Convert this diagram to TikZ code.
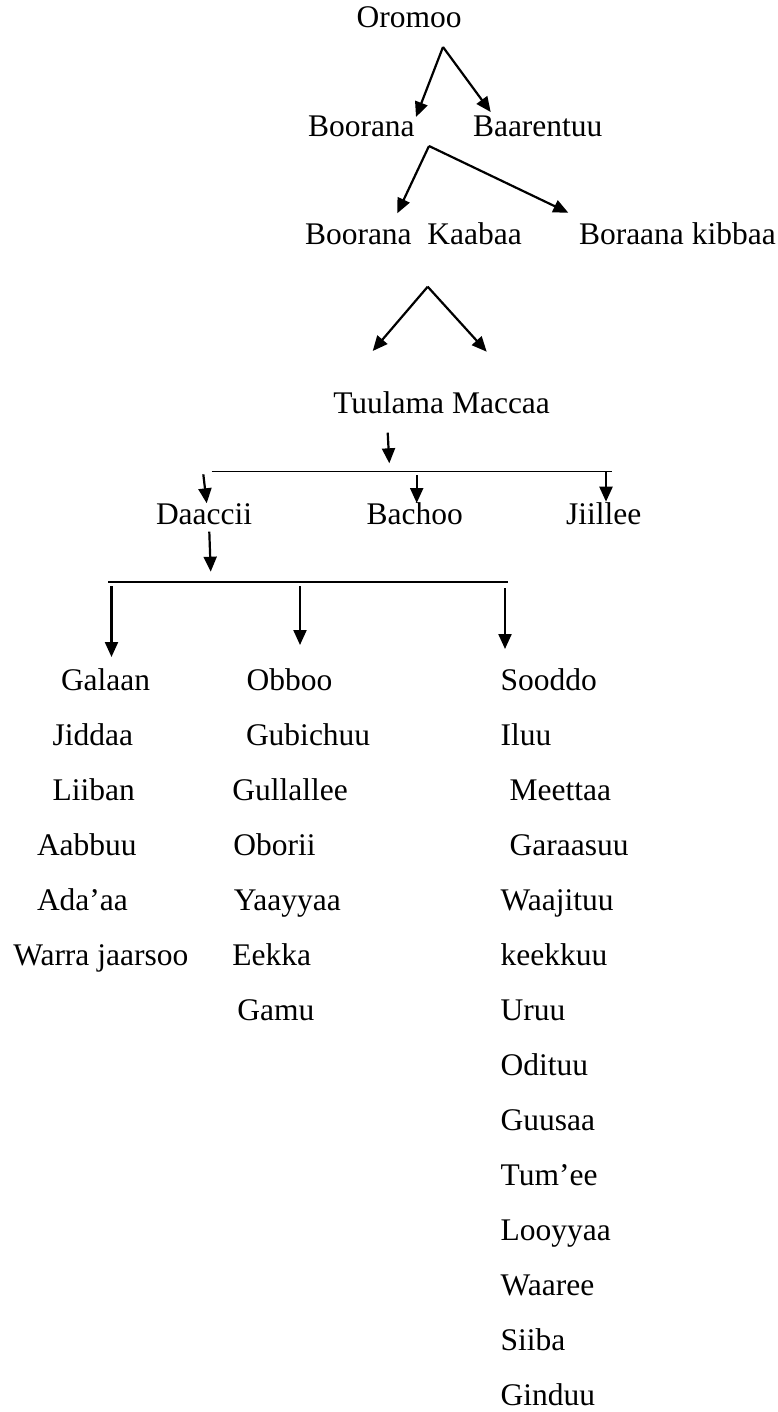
\documentclass[tikz,border=0pt]{standalone}
\usepackage{fontspec}
\setmainfont{Liberation Serif}
\usetikzlibrary{arrows.meta}
\begin{document}
\begin{tikzpicture}[x=1pt,y=-1pt,
  lbl/.style={anchor=base west,inner sep=0pt,outer sep=0pt,font=\fontsize{31.5}{37}\selectfont},
  arr/.style={line width=2.2pt,-{Triangle[length=15pt,width=13pt]}},
  bar/.style={line width=1.4pt}]
\useasboundingbox (0,0) rectangle (778,1412);
% upper tree
\node[lbl] (oromoo) at (356.7,28) {Oromoo};
\node[lbl] (boorana) at (308,137) {Boorana};
\node[lbl] (baarentuu) at (473,137) {Baarentuu};
\node[lbl] (kaabaa) at (305,245) {Boorana\ \ Kaabaa};
\node[lbl] (kibbaa) at (579,245) {Boraana kibbaa};
\node[lbl] (tuulama) at (333.3,413) {Tuulama Maccaa};
\node[lbl] (daaccii) at (156,524) {Daaccii};
\node[lbl] (bachoo) at (366.7,524) {Bachoo};
\node[lbl] (jiillee) at (566,524) {Jiillee};
% arrow end points
\coordinate (a1) at (443,47);
\coordinate (a1l) at (416,117);
\coordinate (a1r) at (490.7,112);
\coordinate (a2) at (429,146);
\coordinate (a2l) at (397.3,213.3);
\coordinate (a2r) at (568.3,212.7);
\coordinate (a3) at (427.7,286.7);
\coordinate (a3l) at (372.7,351);
\coordinate (a3r) at (486.7,351.7);
\coordinate (t1) at (387.7,432.7);
\coordinate (t2) at (389.3,463.3);
\coordinate (h1l) at (211.7,471.5);
\coordinate (h1r) at (611.7,471.5);
\coordinate (d1) at (203.3,474.3);
\coordinate (d2) at (206.7,503.3);
\coordinate (b1) at (416.7,475);
\coordinate (b2) at (416.7,503);
\coordinate (j1) at (606,472.3);
\coordinate (j2) at (606,501.7);
\coordinate (e1) at (209.3,531.7);
\coordinate (e2) at (210.7,571.7);
\coordinate (h2l) at (108.3,582);
\coordinate (h2r) at (508.3,582);
\coordinate (c1s) at (111.5,586);
\coordinate (c1e) at (111.5,657);
\coordinate (c2s) at (300,586);
\coordinate (c2e) at (300,645);
\coordinate (c3s) at (505,588);
\coordinate (c3e) at (505,649);
\draw[arr] (a1) -- (a1l);
\draw[arr] (a1) -- (a1r);
\draw[arr] (a2) -- (a2l);
\draw[arr] (a2) -- (a2r);
\draw[arr] (a3) -- (a3l);
\draw[arr] (a3) -- (a3r);
\draw[arr] (t1) -- (t2);
\draw[bar] (h1l) -- (h1r);
\draw[arr] (d1) -- (d2);
\draw[arr] (b1) -- (b2);
\draw[arr] (j1) -- (j2);
\draw[arr] (e1) -- (e2);
\draw[bar] (h2l) -- (h2r);
\draw[arr] (c1s) -- (c1e);
\draw[arr] (c2s) -- (c2e);
\draw[arr] (c3s) -- (c3e);
% left column
\node[lbl] (galaan) at (61,690) {Galaan};
\node[lbl] (jiddaa) at (52.7,745) {Jiddaa};
\node[lbl] (liiban) at (52.7,800) {Liiban};
\node[lbl] (aabbuu) at (37,855) {Aabbuu};
\node[lbl] (adaaa) at (37,910) {Ada’aa};
\node[lbl] (warra) at (13.3,965) {Warra jaarsoo};
% middle column
\node[lbl] (obboo) at (246.7,690) {Obboo};
\node[lbl] (gubichuu) at (246,745) {Gubichuu};
\node[lbl] (gullallee) at (232.4,800) {Gullallee};
\node[lbl] (oborii) at (233.3,855) {Oborii};
\node[lbl] (yaayyaa) at (233.8,910) {Yaayyaa};
\node[lbl] (eekka) at (232.3,965) {Eekka};
\node[lbl] (gamu) at (237.3,1020) {Gamu};
% right column
\node[lbl] (sooddo) at (500.7,690) {Sooddo};
\node[lbl] (iluu) at (500.7,745) {Iluu};
\node[lbl] (meettaa) at (509.6,800) {Meettaa};
\node[lbl] (garaasuu) at (509.6,855) {Garaasuu};
\node[lbl] (waajituu) at (500.7,910) {Waajituu};
\node[lbl] (keekkuu) at (500.7,965) {keekkuu};
\node[lbl] (uruu) at (500.7,1020) {Uruu};
\node[lbl] (odituu) at (500.7,1075) {Odituu};
\node[lbl] (guusaa) at (500.7,1130) {Guusaa};
\node[lbl] (tumee) at (500.7,1185) {Tum’ee};
\node[lbl] (looyyaa) at (500.7,1240) {Looyyaa};
\node[lbl] (waaree) at (500.7,1295) {Waaree};
\node[lbl] (siiba) at (500.7,1350) {Siiba};
\node[lbl] (ginduu) at (500.7,1405) {Ginduu};
\end{tikzpicture}
\end{document}
